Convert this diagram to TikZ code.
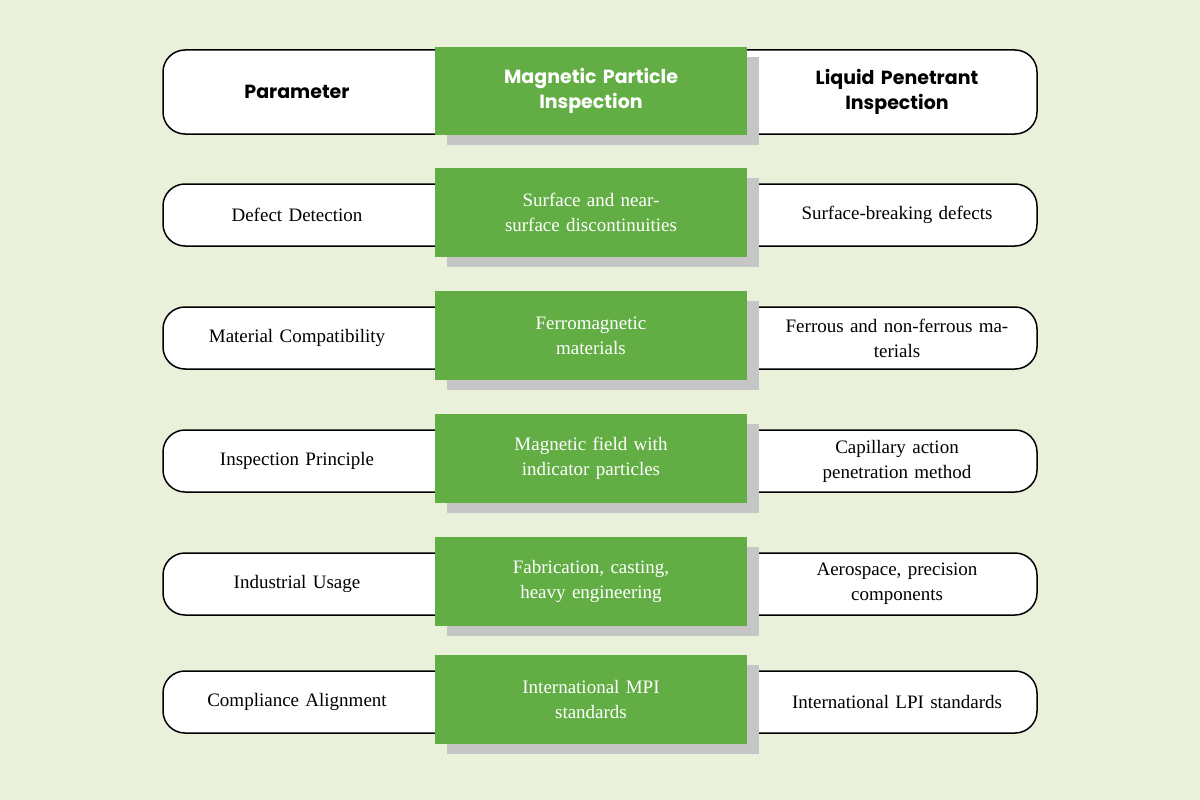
\documentclass[tikz,border=0pt]{standalone}
\usepackage{fontspec}
\setmainfont{Liberation Serif}
\newfontfamily\hdr{Poppins}
\begin{document}
\begin{tikzpicture}[x=1pt,y=-1pt,
  row/.style={draw=black,line width=1.5pt,fill=white,rounded corners=22pt},
  grn/.style={fill=green!55!black!70!lime,draw=none},
  shd/.style={fill=gray!45,draw=none},
  txt/.style={align=center,font=\fontsize{19}{25}\selectfont,text width=250pt},
  htxt/.style={align=center,font=\hdr\bfseries\fontsize{19}{25}\selectfont,text width=260pt}]
\definecolor{bg}{HTML}{E9F1DA}
\definecolor{gr}{HTML}{62AE44}
\fill[bg] (0,0) rectangle (1200,800);
\useasboundingbox (0,0) rectangle (1200,800);
% rows: top, bottom, green top, green bottom
\foreach \i/\a/\b/\c/\d in {0/50/134/47/135,1/184/246/168/257,2/307/369/291/380,3/430/492/414/503,4/553/615/537/626,5/671/733/655/744}{
  \draw[row] (163,\a) rectangle (1037,\b);
  \fill[shd] (447,\c+10) rectangle (759,\d+10);
  \fill[gr] (435,\c) rectangle (747,\d);
  \coordinate (L\i) at (297,{(\a+\b)/2});
  \coordinate (M\i) at (591,{(\c+\d)/2});
  \coordinate (R\i) at (897,{(\a+\b)/2});
}
\node[htxt] (l0) at (L0) {Parameter};
\node[htxt,text=white] (m0) at (M0) {Magnetic Particle\\Inspection};
\node[htxt] (r0) at (R0) {Liquid Penetrant\\Inspection};
\node[txt] (l1) at (L1) {Defect Detection};
\node[txt,text=white] (m1) at (M1) {Surface and near-\\surface discontinuities};
\node[txt] (r1) at (R1) {Surface-breaking defects};
\node[txt] (l2) at (L2) {Material Compatibility};
\node[txt,text=white] (m2) at (M2) {Ferromagnetic\\materials};
\node[txt,text width=290pt] (r2) at (R2) {Ferrous and non-ferrous ma-\\terials};
\node[txt] (l3) at (L3) {Inspection Principle};
\node[txt,text=white] (m3) at (M3) {Magnetic field with\\indicator particles};
\node[txt] (r3) at (R3) {Capillary action\\penetration method};
\node[txt] (l4) at (L4) {Industrial Usage};
\node[txt,text=white] (m4) at (M4) {Fabrication, casting,\\heavy engineering};
\node[txt] (r4) at (R4) {Aerospace, precision\\components};
\node[txt] (l5) at (L5) {Compliance Alignment};
\node[txt,text=white] (m5) at (M5) {International MPI\\standards};
\node[txt] (r5) at (R5) {International LPI standards};
\end{tikzpicture}
\end{document}
